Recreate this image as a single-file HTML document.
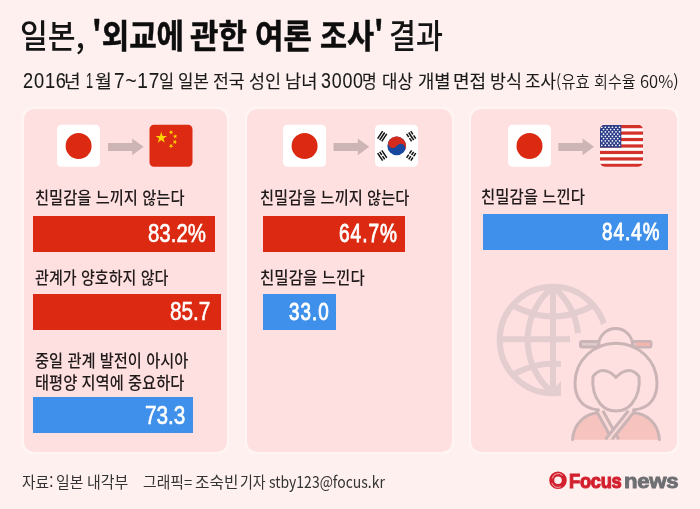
<!DOCTYPE html>
<html lang="ko"><head><meta charset="utf-8"><title>일본, '외교에 관한 여론 조사' 결과</title>
<style>
*{margin:0;padding:0;box-sizing:border-box}
html,body{width:700px;height:509px;overflow:hidden;background:#fef0ef}
body{position:relative;font-family:"Liberation Sans","Noto Sans CJK KR",sans-serif;color:#1a1a1a}
.t{position:absolute;white-space:nowrap;line-height:1;transform-origin:0 0}
.panel{position:absolute;top:108.5px;height:343px;background:#fee0e1;border-radius:10px;box-shadow:0 0 3px 1.5px rgba(255,248,246,.85)}
.bar{position:absolute;height:36px}
.red{background:#dc2a12}
.blue{background:#3f90ea}
.flag{position:absolute;top:125px;width:43px;height:42px;border-radius:5px;overflow:hidden}
.jp{background:#fff}
.jp i{position:absolute;left:8.5px;top:8px;width:26px;height:26px;border-radius:50%;background:#dc2a12}
.arrow{position:absolute;top:138px;width:36px;height:17px}
svg{position:absolute;overflow:visible}
</style></head><body>

<!-- panels -->
<div class="panel" style="left:23.5px;width:203.5px"></div>
<div class="panel" style="left:247px;width:205px"></div>
<div class="panel" style="left:471px;width:205.5px"></div>

<!-- flags row -->
<svg width="700" height="509" style="left:0;top:0" viewBox="0 0 700 509">
<defs>
<clipPath id="cpCN"><rect x="149.5" y="124.8" width="43" height="42" rx="4.5"/></clipPath>
<clipPath id="cpUS"><rect x="600" y="124.8" width="43" height="42" rx="5"/></clipPath>
</defs>
<g fill="#cdb5b6">
<path d="M108 143.1h24.2v-4.7l11.4 8.4-11.4 8.4v-4.3H108z"/>
<path d="M333.6 143.1h24.2v-4.7l11.4 8.4-11.4 8.4v-4.3h-24.2z"/>
<path d="M558.4 143.1h24.2v-4.7l11.4 8.4-11.4 8.4v-4.3h-24.2z"/>
</g>
<g fill="#fff">
<rect x="57" y="124.8" width="43" height="42" rx="4.5"/>
<rect x="283" y="124.8" width="43" height="42" rx="4.5"/>
<rect x="508" y="124.8" width="43" height="42" rx="4.5"/>
<rect x="375" y="124.8" width="43" height="42" rx="4.5"/>
</g>
<g fill="#dc2a12">
<circle cx="78.6" cy="146" r="13"/>
<circle cx="304.6" cy="146" r="13"/>
<circle cx="529.5" cy="146" r="13"/>
</g>
<rect x="149.5" y="124.8" width="43" height="42" rx="4.5" fill="#dd2a13"/>
<g fill="#ffd400"><polygon points="161.30,131.80 162.65,135.95 167.01,135.95 163.48,138.51 164.83,142.65 161.30,140.09 157.77,142.65 159.12,138.51 155.59,135.95 159.95,135.95"/><polygon points="168.55,132.80 170.13,131.90 169.77,130.13 171.11,131.35 172.69,130.46 171.94,132.11 173.28,133.33 171.47,133.13 170.72,134.78 170.36,133.00"/><polygon points="172.66,135.87 174.46,135.69 174.85,133.91 175.58,135.57 177.39,135.39 176.03,136.60 176.77,138.26 175.20,137.35 173.84,138.56 174.23,136.79"/><polygon points="172.86,140.56 174.59,141.10 175.64,139.61 175.66,141.43 177.40,141.96 175.68,142.55 175.71,144.37 174.62,142.91 172.90,143.50 173.95,142.01"/><polygon points="169.68,143.88 171.07,145.05 172.61,144.09 171.93,145.77 173.31,146.95 171.50,146.81 170.82,148.49 170.38,146.73 168.57,146.60 170.12,145.64"/></g>
<circle cx="396.7" cy="145.9" r="9.3" fill="#17489e"/><path d="M388.96 140.74A9.3 9.3 0 0 1 404.44 151.06A4.65 4.65 0 0 0 396.7 145.9A4.65 4.65 0 0 1 388.96 140.74Z" fill="#d52a1e"/><g transform="translate(382.22 136.25) rotate(213.7)" fill="#111"><rect x="-3.25" y="-4.5" width="1.5" height="9.0"/><rect x="-0.75" y="-4.5" width="1.5" height="9.0"/><rect x="1.75" y="-4.5" width="1.5" height="9.0"/></g><g transform="translate(411.18 136.25) rotate(-33.7)" fill="#111"><rect x="-3.25" y="-4.5" width="1.5" height="3.85"/><rect x="-3.25" y="0.65" width="1.5" height="3.85"/><rect x="-0.75" y="-4.5" width="1.5" height="9.0"/><rect x="1.75" y="-4.5" width="1.5" height="3.85"/><rect x="1.75" y="0.65" width="1.5" height="3.85"/></g><g transform="translate(382.22 155.55) rotate(146.3)" fill="#111"><rect x="-3.25" y="-4.5" width="1.5" height="9.0"/><rect x="-0.75" y="-4.5" width="1.5" height="3.85"/><rect x="-0.75" y="0.65" width="1.5" height="3.85"/><rect x="1.75" y="-4.5" width="1.5" height="9.0"/></g><g transform="translate(411.18 155.55) rotate(33.7)" fill="#111"><rect x="-3.25" y="-4.5" width="1.5" height="3.85"/><rect x="-3.25" y="0.65" width="1.5" height="3.85"/><rect x="-0.75" y="-4.5" width="1.5" height="3.85"/><rect x="-0.75" y="0.65" width="1.5" height="3.85"/><rect x="1.75" y="-4.5" width="1.5" height="3.85"/><rect x="1.75" y="0.65" width="1.5" height="3.85"/></g>
<g clip-path="url(#cpUS)"><rect x="600" y="125" width="43" height="42" fill="#fff"/><rect x="600" y="125.00" width="43" height="3.23" fill="#d4312a"/><rect x="600" y="131.46" width="43" height="3.23" fill="#d4312a"/><rect x="600" y="137.92" width="43" height="3.23" fill="#d4312a"/><rect x="600" y="144.38" width="43" height="3.23" fill="#d4312a"/><rect x="600" y="150.85" width="43" height="3.23" fill="#d4312a"/><rect x="600" y="157.31" width="43" height="3.23" fill="#d4312a"/><rect x="600" y="163.77" width="43" height="3.23" fill="#d4312a"/><rect x="600" y="125" width="21.3" height="22.62" fill="#2c3d8a"/><g fill="#fff"><circle cx="601.77" cy="127.26" r=".85"/><circle cx="605.33" cy="127.26" r=".85"/><circle cx="608.88" cy="127.26" r=".85"/><circle cx="612.42" cy="127.26" r=".85"/><circle cx="615.98" cy="127.26" r=".85"/><circle cx="619.52" cy="127.26" r=".85"/><circle cx="603.55" cy="129.52" r=".85"/><circle cx="607.10" cy="129.52" r=".85"/><circle cx="610.65" cy="129.52" r=".85"/><circle cx="614.20" cy="129.52" r=".85"/><circle cx="617.75" cy="129.52" r=".85"/><circle cx="601.77" cy="131.78" r=".85"/><circle cx="605.33" cy="131.78" r=".85"/><circle cx="608.88" cy="131.78" r=".85"/><circle cx="612.42" cy="131.78" r=".85"/><circle cx="615.98" cy="131.78" r=".85"/><circle cx="619.52" cy="131.78" r=".85"/><circle cx="603.55" cy="134.05" r=".85"/><circle cx="607.10" cy="134.05" r=".85"/><circle cx="610.65" cy="134.05" r=".85"/><circle cx="614.20" cy="134.05" r=".85"/><circle cx="617.75" cy="134.05" r=".85"/><circle cx="601.77" cy="136.31" r=".85"/><circle cx="605.33" cy="136.31" r=".85"/><circle cx="608.88" cy="136.31" r=".85"/><circle cx="612.42" cy="136.31" r=".85"/><circle cx="615.98" cy="136.31" r=".85"/><circle cx="619.52" cy="136.31" r=".85"/><circle cx="603.55" cy="138.57" r=".85"/><circle cx="607.10" cy="138.57" r=".85"/><circle cx="610.65" cy="138.57" r=".85"/><circle cx="614.20" cy="138.57" r=".85"/><circle cx="617.75" cy="138.57" r=".85"/><circle cx="601.77" cy="140.83" r=".85"/><circle cx="605.33" cy="140.83" r=".85"/><circle cx="608.88" cy="140.83" r=".85"/><circle cx="612.42" cy="140.83" r=".85"/><circle cx="615.98" cy="140.83" r=".85"/><circle cx="619.52" cy="140.83" r=".85"/><circle cx="603.55" cy="143.09" r=".85"/><circle cx="607.10" cy="143.09" r=".85"/><circle cx="610.65" cy="143.09" r=".85"/><circle cx="614.20" cy="143.09" r=".85"/><circle cx="617.75" cy="143.09" r=".85"/><circle cx="601.77" cy="145.35" r=".85"/><circle cx="605.33" cy="145.35" r=".85"/><circle cx="608.88" cy="145.35" r=".85"/><circle cx="612.42" cy="145.35" r=".85"/><circle cx="615.98" cy="145.35" r=".85"/><circle cx="619.52" cy="145.35" r=".85"/></g></g>
</svg>

<!-- illustration -->
<svg width="700" height="509" style="left:0;top:0" viewBox="0 0 700 509">
<g fill="none" stroke="#e3cdcf" stroke-width="6">
<circle cx="553" cy="340" r="53.3"/>
<path d="M553 287v106"/>
<path d="M499 339.3h71"/>
<path d="M513 305.5Q553 327.5 593 305.5"/>
<path d="M513 374.5Q553 352.5 593 374.5"/>
<path d="M553 287A68 68 0 0 0 553 393"/>
<path d="M553 287A68 68 0 0 1 553 393"/>
</g>
<g fill="#fee0e1">
<rect x="561" y="346" width="110" height="100"/>
<rect x="572.5" y="333" width="95" height="22" rx="6"/>
<circle cx="615.6" cy="345.5" r="25"/>
<circle cx="616" cy="384" r="48"/>
</g>
<g stroke="#cab4b5" stroke-width="3" stroke-linejoin="round" stroke-linecap="round">
<path d="M572.6 439.8C573.5 424 585 413.2 599 412.8L633 412.8C647 413.2 658.5 424 659.4 439.8Z" fill="#f6c3bf" stroke="none"/>
<path d="M572.6 439.5C573.5 424 585 413.2 599 412.8M659.4 439.5C658.5 424 647 413.2 633 412.8" fill="none"/>
<path d="M602.9 410.7L628.4 410.7L613.3 429.6Z" fill="#fee0e1" stroke="none"/><path d="M596.3 410.7L602.9 410.7L618.6 439.6L612 439.6Z" fill="#fcdad8" stroke="none"/><path d="M596.3 410.7L612 439.3M602.9 410.7L618.6 439.3" fill="none" stroke-linecap="butt"/><path d="M635 410.7L628.4 410.7L605.6 439.6L612.2 439.6Z" fill="#fcdad8" stroke="none"/><path d="M635 410.7L612.2 439.3M628.4 410.7L605.6 439.3" fill="none" stroke-linecap="butt"/>

<rect x="580.5" y="341.4" width="70.5" height="5.6" rx="1.5" fill="#dccbcb"/>
<rect x="636" y="342.6" width="14" height="3.2" fill="#f5b3ae" stroke="none"/>
<circle cx="615.6" cy="345.5" r="17" fill="#fee0e1"/>
<path d="M598.5 410C590 409 583 405.5 579.5 400C575.5 394 575 387 575 383C575 360.5 593.5 343.3 616 343.3C638.5 343.3 657 360.5 657 383C657 387 656.5 394 652.5 400C649 405.5 642 409 633.5 410" fill="#fee0e1"/>
<path d="M593 376.5C596 372.5 599.5 370.5 603 370.5C608 370.5 612 373 616 377.5C620 373 624 370.5 629 370.5C632.5 370.5 636 372.5 639 376.5C640 386 638 396 632 403.5C628 408.5 622.5 411 616 411C609.5 411 604 408.5 600 403.5C594 396 592 386 593 376.5Z" fill="#fee0e1"/>
</g>
</svg>

<!-- logo -->
<svg width="700" height="509" style="left:0;top:0" viewBox="0 0 700 509">
<circle cx="558" cy="480.3" r="6.3" fill="none" stroke="#d3202e" stroke-width="5"/>
<path d="M552.2 478.5A6.2 6.2 0 0 1 562.5 475.2" fill="none" stroke="#f3b9bd" stroke-width=".9"/>
<path d="M560.8 486.8A6.6 6.6 0 0 1 551.8 483" fill="none" stroke="#f3b9bd" stroke-width=".9"/>
</svg>

<!-- bars -->
<div class="bar red" style="left:32.5px;top:216px;width:182.5px"></div>
<div class="bar red" style="left:32.5px;top:294px;width:188px"></div>
<div class="bar blue" style="left:32.5px;top:397px;width:160.8px"></div>
<div class="bar red" style="left:263px;top:216px;width:142px"></div>
<div class="bar blue" style="left:263px;top:294px;width:72.5px"></div>
<div class="bar blue" style="left:482.5px;top:213.5px;width:185px"></div>

<div class="t" style="left:19.88px;top:17.2px;font-family:'Noto Sans CJK KR',sans-serif;font-size:33.2px;font-weight:500;color:#141414;transform:scaleX(0.9120);">일본,</div>
<div class="t" style="left:91.59px;top:16.6px;font-family:'Noto Sans CJK KR',sans-serif;font-size:33.2px;font-weight:700;-webkit-text-stroke-width:0.55px;color:#0d0d0d;transform:scaleX(0.8990);">'외교에</div>
<div class="t" style="left:190.00px;top:16.6px;font-family:'Noto Sans CJK KR',sans-serif;font-size:33.2px;font-weight:700;-webkit-text-stroke-width:0.55px;color:#0d0d0d;transform:scaleX(0.9322);">관한</div>
<div class="t" style="left:255.11px;top:16.6px;font-family:'Noto Sans CJK KR',sans-serif;font-size:33.2px;font-weight:700;-webkit-text-stroke-width:0.55px;color:#0d0d0d;transform:scaleX(0.9306);">여론</div>
<div class="t" style="left:319.89px;top:16.6px;font-family:'Noto Sans CJK KR',sans-serif;font-size:33.2px;font-weight:700;-webkit-text-stroke-width:0.55px;color:#0d0d0d;transform:scaleX(0.8854);">조사'</div>
<div class="t" style="left:388.92px;top:17.2px;font-family:'Noto Sans CJK KR',sans-serif;font-size:33.2px;font-weight:500;color:#141414;transform:scaleX(0.8829);">결과</div>
<div class="t" style="left:23.00px;top:69.6px;font-family:'Liberation Sans','Noto Sans CJK KR',sans-serif;font-size:22.5px;font-weight:400;letter-spacing:1px;-webkit-text-stroke-width:0.1px;color:#1a1a1a;transform:scaleX(0.8098);">2016</div>
<div class="t" style="left:64.20px;top:70.8px;font-family:'Noto Sans CJK KR',sans-serif;font-size:18.3px;font-weight:400;-webkit-text-stroke-width:0.12px;color:#1a1a1a;transform:scaleX(0.9864);">년</div>
<div class="t" style="left:85.56px;top:69.6px;font-family:'Liberation Sans','Noto Sans CJK KR',sans-serif;font-size:22.5px;font-weight:400;letter-spacing:1px;-webkit-text-stroke-width:0.1px;color:#1a1a1a;transform:scaleX(0.5624);">1</div>
<div class="t" style="left:94.90px;top:70.8px;font-family:'Noto Sans CJK KR',sans-serif;font-size:18.3px;font-weight:400;-webkit-text-stroke-width:0.12px;color:#1a1a1a;transform:scaleX(1.0000);">월</div>
<div class="t" style="left:113.69px;top:69.6px;font-family:'Liberation Sans','Noto Sans CJK KR',sans-serif;font-size:22.5px;font-weight:400;letter-spacing:1px;-webkit-text-stroke-width:0.1px;color:#1a1a1a;transform:scaleX(0.8444);">7~17</div>
<div class="t" style="left:158.56px;top:70.8px;font-family:'Noto Sans CJK KR',sans-serif;font-size:18.3px;font-weight:400;-webkit-text-stroke-width:0.12px;color:#1a1a1a;transform:scaleX(0.8943);">일</div>
<div class="t" style="left:178.00px;top:70.8px;font-family:'Noto Sans CJK KR',sans-serif;font-size:18.3px;font-weight:400;-webkit-text-stroke-width:0.12px;color:#1a1a1a;transform:scaleX(0.9157);">일본</div>
<div class="t" style="left:212.61px;top:70.8px;font-family:'Noto Sans CJK KR',sans-serif;font-size:18.3px;font-weight:400;-webkit-text-stroke-width:0.12px;color:#1a1a1a;transform:scaleX(0.9410);">전국</div>
<div class="t" style="left:249.09px;top:70.8px;font-family:'Noto Sans CJK KR',sans-serif;font-size:18.3px;font-weight:400;-webkit-text-stroke-width:0.12px;color:#1a1a1a;transform:scaleX(0.9550);">성인</div>
<div class="t" style="left:285.00px;top:70.8px;font-family:'Noto Sans CJK KR',sans-serif;font-size:18.3px;font-weight:400;-webkit-text-stroke-width:0.12px;color:#1a1a1a;transform:scaleX(0.9655);">남녀</div>
<div class="t" style="left:320.80px;top:69.6px;font-family:'Liberation Sans','Noto Sans CJK KR',sans-serif;font-size:22.5px;font-weight:400;letter-spacing:1px;-webkit-text-stroke-width:0.1px;color:#1a1a1a;transform:scaleX(0.7922);">3000</div>
<div class="t" style="left:362.49px;top:70.8px;font-family:'Noto Sans CJK KR',sans-serif;font-size:18.3px;font-weight:400;-webkit-text-stroke-width:0.12px;color:#1a1a1a;transform:scaleX(0.8736);">명</div>
<div class="t" style="left:381.90px;top:70.8px;font-family:'Noto Sans CJK KR',sans-serif;font-size:18.3px;font-weight:400;-webkit-text-stroke-width:0.12px;color:#1a1a1a;transform:scaleX(0.9157);">대상</div>
<div class="t" style="left:417.58px;top:70.8px;font-family:'Noto Sans CJK KR',sans-serif;font-size:18.3px;font-weight:400;-webkit-text-stroke-width:0.12px;color:#1a1a1a;transform:scaleX(0.9714);">개별</div>
<div class="t" style="left:453.09px;top:70.8px;font-family:'Noto Sans CJK KR',sans-serif;font-size:18.3px;font-weight:400;-webkit-text-stroke-width:0.12px;color:#1a1a1a;transform:scaleX(0.9868);">면접</div>
<div class="t" style="left:489.88px;top:70.8px;font-family:'Noto Sans CJK KR',sans-serif;font-size:18.3px;font-weight:400;-webkit-text-stroke-width:0.12px;color:#1a1a1a;transform:scaleX(0.9503);">방식</div>
<div class="t" style="left:524.71px;top:70.8px;font-family:'Noto Sans CJK KR',sans-serif;font-size:18.3px;font-weight:400;-webkit-text-stroke-width:0.12px;color:#1a1a1a;transform:scaleX(0.9189);">조사</div>
<div class="t" style="left:556.40px;top:71.8px;font-family:'Noto Sans CJK KR',sans-serif;font-size:17px;font-weight:350;color:#1a1a1a;transform:scaleX(0.9127);">(유효</div>
<div class="t" style="left:594.10px;top:71.8px;font-family:'Noto Sans CJK KR',sans-serif;font-size:17px;font-weight:350;color:#1a1a1a;transform:scaleX(0.8889);">회수율</div>
<div class="t" style="left:640.40px;top:71.8px;font-family:'Noto Sans CJK KR',sans-serif;font-size:17px;font-weight:350;color:#1a1a1a;transform:scaleX(0.9730);">60%)</div>
<div class="t" style="left:34.60px;top:188px;font-family:'Noto Sans CJK KR',sans-serif;font-size:17.3px;font-weight:500;color:#211a1a;transform:scaleX(0.8862);">친밀감을 느끼지 않는다</div>
<div class="t" style="left:34.60px;top:267.5px;font-family:'Noto Sans CJK KR',sans-serif;font-size:17.3px;font-weight:500;color:#211a1a;transform:scaleX(0.8735);">관계가 양호하지 않다</div>
<div class="t" style="left:34.60px;top:351px;font-family:'Noto Sans CJK KR',sans-serif;font-size:17.3px;font-weight:500;color:#211a1a;transform:scaleX(0.8837);">중일 관계 발전이 아시아</div>
<div class="t" style="left:34.60px;top:372.5px;font-family:'Noto Sans CJK KR',sans-serif;font-size:17.3px;font-weight:500;color:#211a1a;transform:scaleX(0.8850);">태평양 지역에 중요하다</div>
<div class="t" style="left:260.40px;top:188px;font-family:'Noto Sans CJK KR',sans-serif;font-size:17.3px;font-weight:500;color:#211a1a;transform:scaleX(0.8850);">친밀감을 느끼지 않는다</div>
<div class="t" style="left:260.39px;top:267.5px;font-family:'Noto Sans CJK KR',sans-serif;font-size:17.3px;font-weight:500;color:#211a1a;transform:scaleX(0.9018);">친밀감을 느낀다</div>
<div class="t" style="left:481.00px;top:186.5px;font-family:'Noto Sans CJK KR',sans-serif;font-size:17.3px;font-weight:500;color:#211a1a;transform:scaleX(0.8957);">친밀감을 느낀다</div>
<div class="t" style="left:148.10px;top:221px;font-family:'Liberation Sans','Noto Sans CJK KR',sans-serif;font-size:25px;font-weight:400;-webkit-text-stroke-width:0.6px;color:#fff;transform:scaleX(0.8174);">83.2%</div>
<div class="t" style="left:170.00px;top:299px;font-family:'Liberation Sans','Noto Sans CJK KR',sans-serif;font-size:25px;font-weight:400;-webkit-text-stroke-width:0.6px;color:#fff;transform:scaleX(0.8298);">85.7</div>
<div class="t" style="left:145.00px;top:403px;font-family:'Liberation Sans','Noto Sans CJK KR',sans-serif;font-size:25px;font-weight:400;-webkit-text-stroke-width:0.6px;color:#fff;transform:scaleX(0.8298);">73.3</div>
<div class="t" style="left:338.79px;top:221px;font-family:'Liberation Sans','Noto Sans CJK KR',sans-serif;font-size:25px;font-weight:400;letter-spacing:1.3px;-webkit-text-stroke-width:0.9px;color:#fff;transform:scaleX(0.7628);">64.7%</div>
<div class="t" style="left:288.60px;top:300.5px;font-family:'Liberation Sans','Noto Sans CJK KR',sans-serif;font-size:25px;font-weight:400;font-size:23.6px;letter-spacing:1.3px;-webkit-text-stroke-width:0.9px;color:#fff;transform:scaleX(0.7959);">33.0</div>
<div class="t" style="left:602.00px;top:220.3px;font-family:'Liberation Sans','Noto Sans CJK KR',sans-serif;font-size:25px;font-weight:400;font-size:23.8px;letter-spacing:1.3px;-webkit-text-stroke-width:0.9px;color:#fff;transform:scaleX(0.7890);">84.4%</div>
<div class="t" style="left:21.82px;top:473.3px;font-family:'Noto Sans CJK KR',sans-serif;font-size:16px;font-weight:400;color:#333333;transform:scaleX(0.9221);">자료:</div>
<div class="t" style="left:56.40px;top:473.3px;font-family:'Noto Sans CJK KR',sans-serif;font-size:16px;font-weight:400;color:#333333;transform:scaleX(0.9286);">일본</div>
<div class="t" style="left:87.19px;top:473.3px;font-family:'Noto Sans CJK KR',sans-serif;font-size:16px;font-weight:400;color:#333333;transform:scaleX(0.9335);">내각부</div>
<div class="t" style="left:143.49px;top:473.3px;font-family:'Noto Sans CJK KR',sans-serif;font-size:16px;font-weight:400;color:#333333;transform:scaleX(0.9271);">그래픽=</div>
<div class="t" style="left:194.59px;top:473.3px;font-family:'Noto Sans CJK KR',sans-serif;font-size:16px;font-weight:400;color:#333333;transform:scaleX(0.9812);">조숙빈</div>
<div class="t" style="left:240.01px;top:473.3px;font-family:'Noto Sans CJK KR',sans-serif;font-size:16px;font-weight:400;color:#333333;transform:scaleX(0.8716);">기자</div>
<div class="t" style="left:268.50px;top:473.3px;font-family:'Noto Sans CJK KR',sans-serif;font-size:16px;font-weight:400;color:#333333;transform:scaleX(0.8735);">stby123@focus.kr</div>
<div class="t" style="left:569.10px;top:470.6px;font-family:'Liberation Sans',sans-serif;font-size:20.5px;font-weight:700;letter-spacing:-0.3px;-webkit-text-stroke-width:1.1px;color:#d3202e;transform:scaleX(0.8914);">Focus</div>
<div class="t" style="left:624.00px;top:470.6px;font-family:'Liberation Sans',sans-serif;font-size:20.5px;font-weight:700;letter-spacing:-0.3px;-webkit-text-stroke-width:0.9px;color:#6e6f72;transform:scaleX(1.0816);">news</div>

</body></html>
